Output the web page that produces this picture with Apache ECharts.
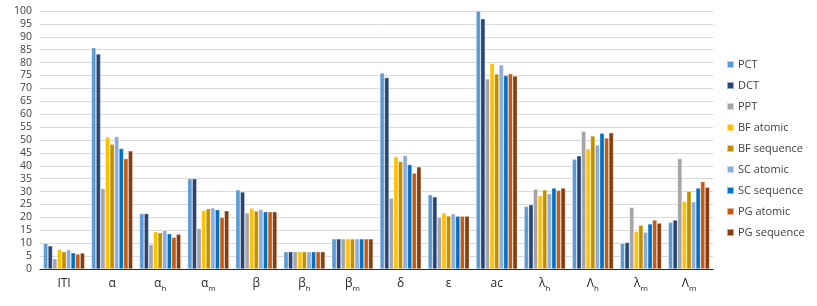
<!DOCTYPE html>
<html><head><meta charset="utf-8">
<script src="https://cdn.jsdelivr.net/npm/echarts@6/dist/echarts.min.js"></script>
<style>html,body{margin:0;padding:0;background:#fff}#c{width:817px;height:306px}</style>
</head><body><div id="c"></div>
<script>
const categories = ['ITI', 'α', 'α_h', 'α_m', 'β', 'β_h', 'β_m', 'δ', 'ε', 'ac', 'λ_h', 'Λ_h', 'λ_m', 'Λ_m'];
const seriesNames = ['PCT', 'DCT', 'PPT', 'BF atomic', 'BF sequence', 'SC atomic', 'SC sequence', 'PG atomic', 'PG sequence'];
const PCT =        [9.9, 85.8, 21.5, 35.0, 30.7, 6.7, 11.7, 76.0, 28.8, 100.0, 24.3, 42.6, 9.9, 18.1];
const DCT =        [9.0, 83.4, 21.5, 35.0, 29.9, 6.7, 11.7, 74.2, 28.0, 97.0, 24.9, 43.9, 10.3, 19.0];
const PPT =        [4.0, 31.2, 9.5, 15.7, 21.7, 6.7, 11.7, 27.4, 20.0, 73.7, 31.0, 53.4, 23.9, 42.8];
const BF_atomic =  [7.6, 51.2, 14.5, 22.8, 23.6, 6.7, 11.7, 43.6, 21.8, 79.7, 28.4, 46.6, 14.5, 26.2];
const BF_sequence =[6.7, 48.4, 14.1, 23.4, 22.5, 6.7, 11.7, 41.7, 20.6, 75.6, 30.7, 51.6, 17.0, 30.1];
const SC_atomic =  [7.5, 51.4, 15.0, 23.7, 23.1, 6.7, 11.7, 44.0, 21.4, 79.1, 29.2, 48.1, 14.3, 26.1];
const SC_sequence =[6.3, 46.7, 13.7, 23.0, 22.2, 6.7, 11.7, 40.5, 20.5, 75.0, 31.4, 52.6, 17.5, 31.4];
const PG_atomic =  [5.8, 42.8, 12.3, 20.0, 22.2, 6.7, 11.7, 37.2, 20.5, 75.7, 30.5, 50.8, 19.0, 33.9];
const PG_sequence =[6.2, 45.8, 13.5, 22.6, 22.2, 6.7, 11.7, 39.6, 20.5, 74.8, 31.4, 52.8, 17.8, 31.7];
const yTicks = {min: 0, max: 100, interval: 5};

const allData = [PCT, DCT, PPT, BF_atomic, BF_sequence, SC_atomic, SC_sequence, PG_atomic, PG_sequence];
const colors = ['#5B9BD5', '#264478', '#A5A5A5', '#FFC000', '#BF8F00', '#8FAADC', '#0070C0', '#C55A11', '#843C0C'];

const chart = echarts.init(document.getElementById('c'));
chart.setOption({
  animation: false,
  color: colors,
  grid: {left: 40, right: 104, top: 11, bottom: 37},
  legend: {
    orient: 'vertical', left: 721, top: 54,
    itemWidth: 7, itemHeight: 7, itemGap: 10,
    textStyle: {fontFamily: 'Open Sans', fontSize: 11, color: '#404040', padding: [0,0,0,-1]},
    icon: 'rect',
    data: seriesNames
  },
  xAxis: {
    type: 'category', data: categories,
    axisLine: {lineStyle: {color: '#262626', width: 1.2}},
    axisTick: {show: false},
    axisLabel: {
      margin: 5, interval: 0,
      formatter: function (v) {
        const p = v.split('_');
        if (p.length === 2) return '{b|' + p[0] + '}{s|' + p[1] + '}';
        return '{b|' + v + '}';
      },
      rich: {
        b: {fontFamily: 'Open Sans', fontSize: 12, color: '#262626', lineHeight: 16, verticalAlign: 'bottom'},
        s: {fontFamily: 'Open Sans', fontSize: 8, color: '#262626', lineHeight: 16, verticalAlign: 'bottom', padding: [0,0,-3,0]}
      }
    }
  },
  yAxis: {
    type: 'value', min: yTicks.min, max: yTicks.max, interval: yTicks.interval,
    axisLine: {show: false}, axisTick: {show: false},
    axisLabel: {fontFamily: 'Open Sans', fontSize: 10.5, color: '#404040', margin: 8},
    splitLine: {lineStyle: {color: '#D9D9D9', width: 1}}
  },
  series: seriesNames.map((n, i) => ({
    name: n, type: 'bar', data: allData[i],
    barGap: '0%', barCategoryGap: '14%',
    itemStyle: {borderColor: 'rgba(255,255,255,0.55)', borderWidth: 0.6}
  }))
});
</script></body></html>
